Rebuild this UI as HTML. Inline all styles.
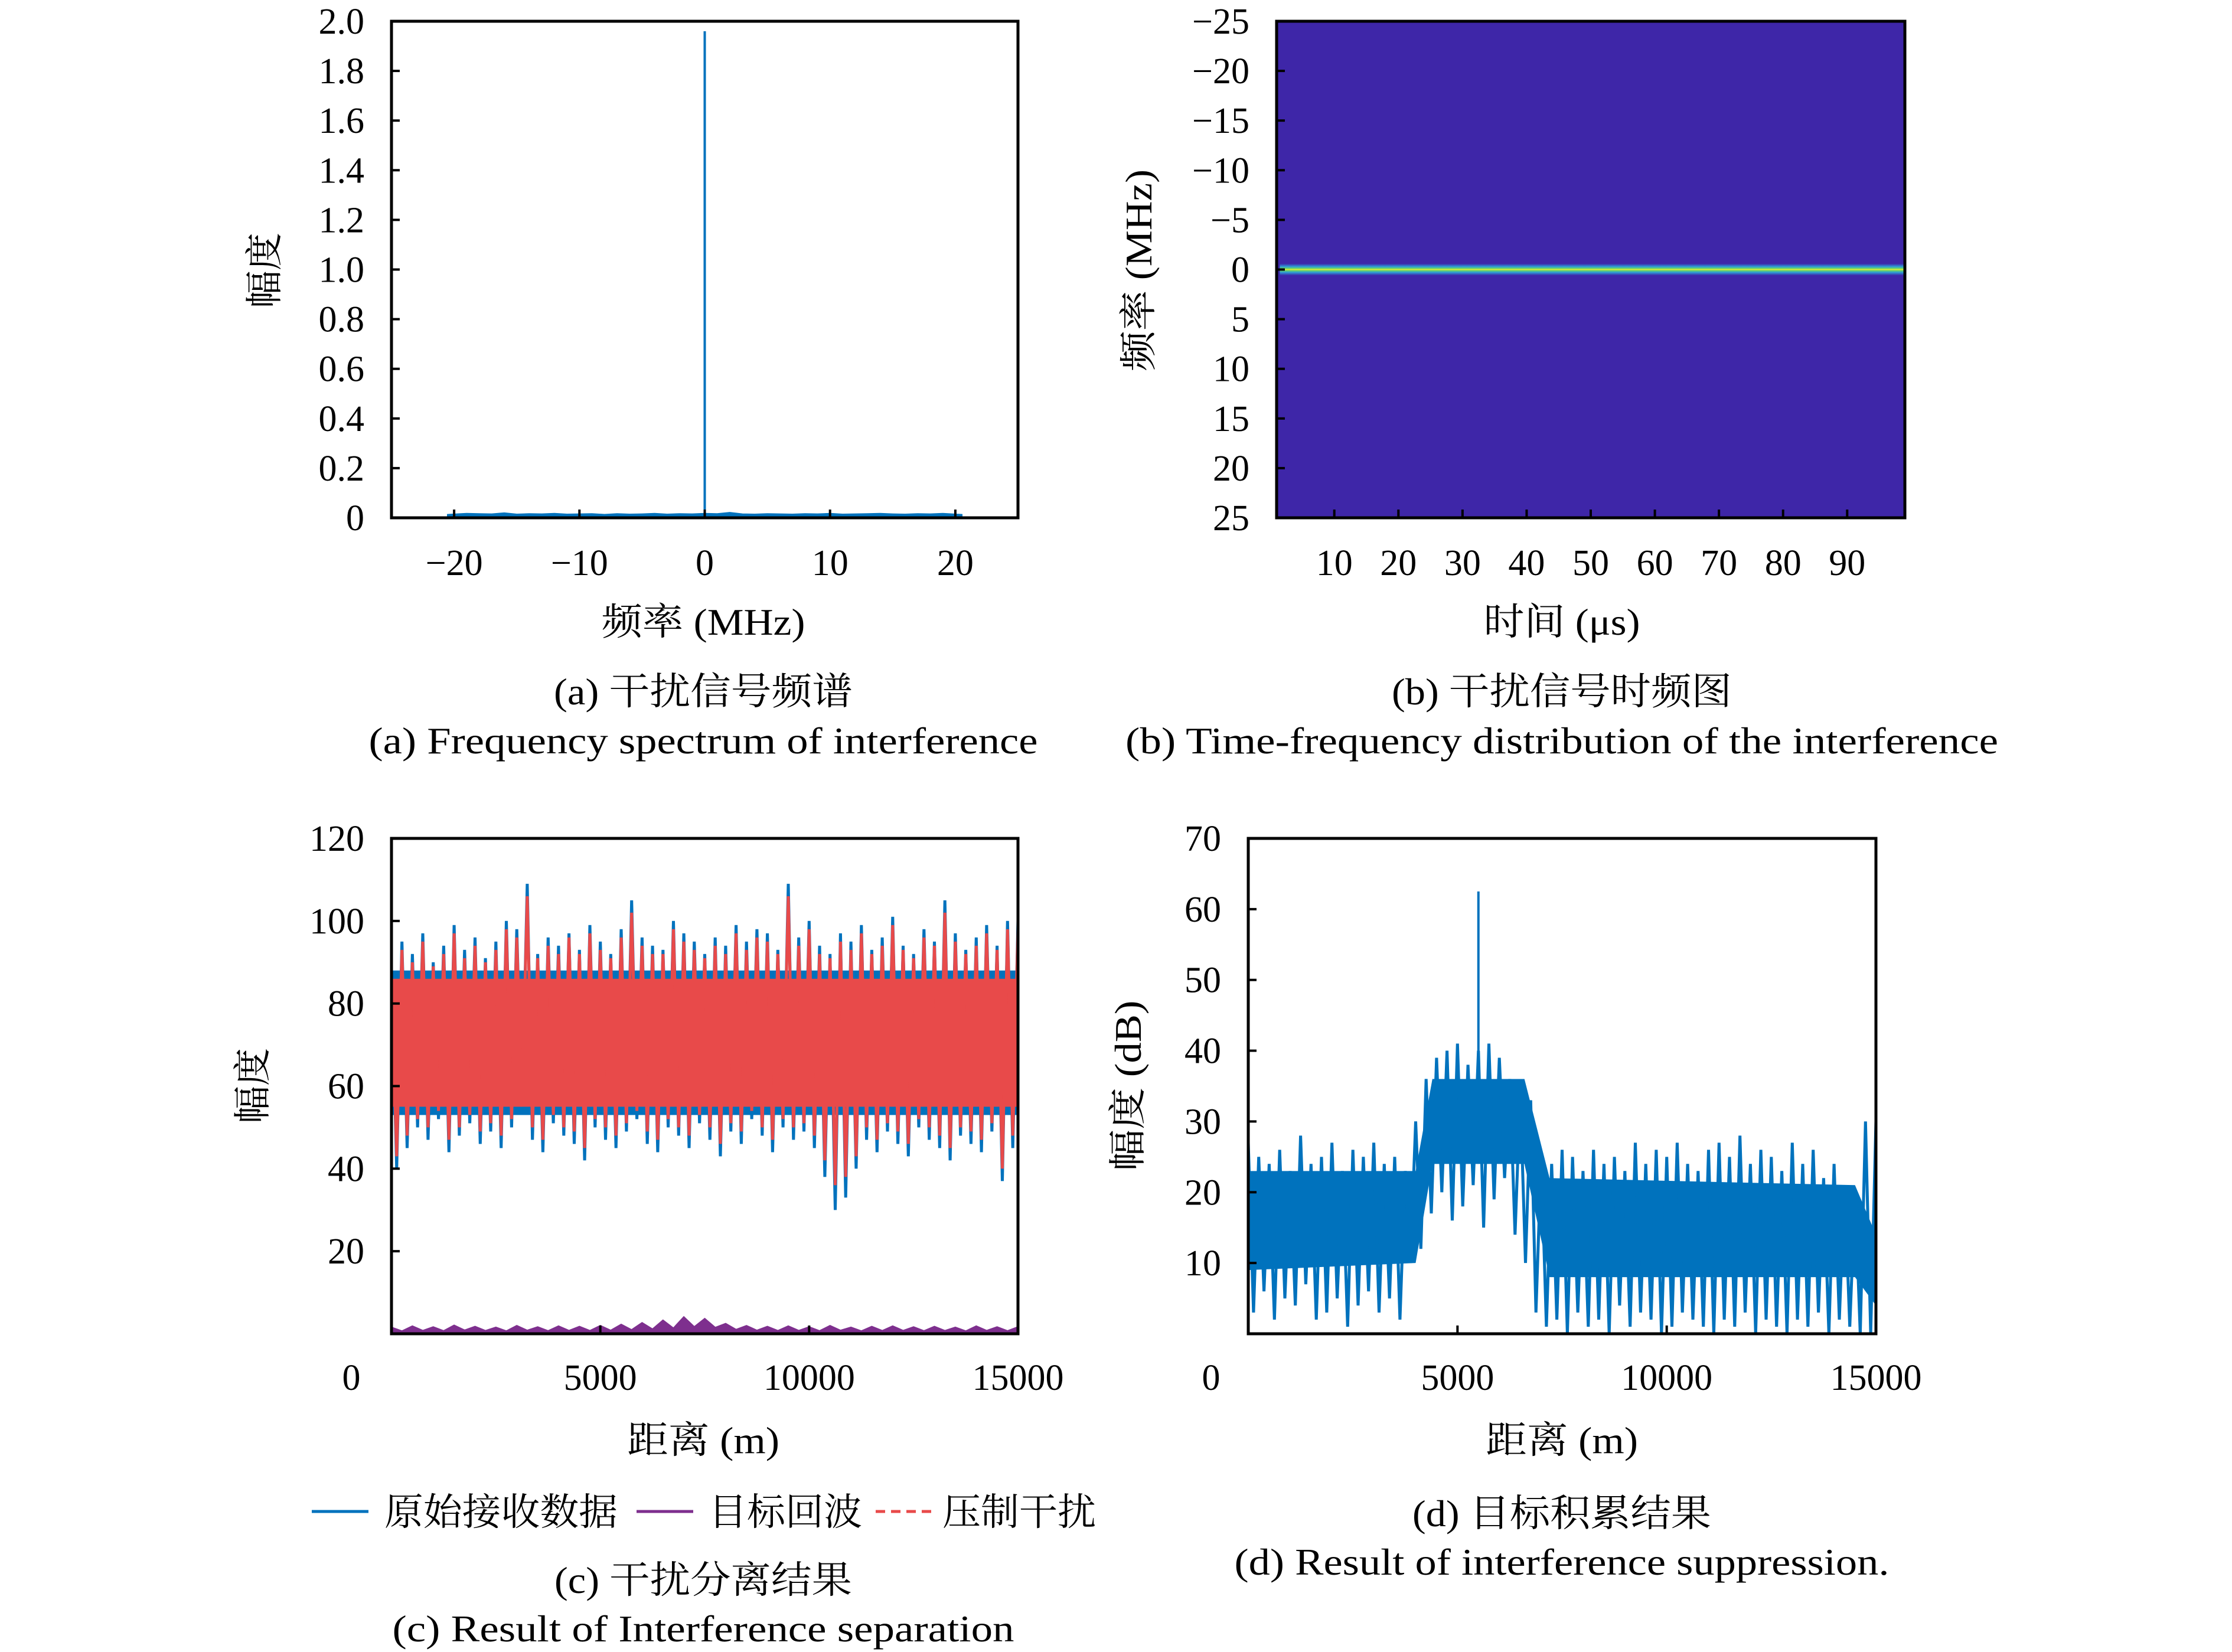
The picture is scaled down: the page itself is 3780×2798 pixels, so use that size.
<!DOCTYPE html>
<html><head><meta charset="utf-8"><style>
html,body{margin:0;padding:0;background:#fff}
svg{display:block}
text{font-family:"Liberation Serif","Noto Serif CJK SC",serif;fill:#000}
</style></head><body>
<svg id="fig" width="3780" height="2798" viewBox="0 0 3780 2798" xmlns="http://www.w3.org/2000/svg">
<defs>
<linearGradient id="tfband" x1="0" y1="0" x2="0" y2="1">
<stop offset="0" stop-color="#3e26a8"/><stop offset="0.25" stop-color="#2d9ad8"/><stop offset="0.4" stop-color="#60d070"/><stop offset="0.5" stop-color="#e8f030"/><stop offset="0.6" stop-color="#60d070"/><stop offset="0.75" stop-color="#2d9ad8"/><stop offset="1" stop-color="#3e26a8"/>
</linearGradient>
</defs>
<g id="layer"></g>
<text transform="translate(470,458) rotate(-90)" text-anchor="middle" font-size="64">幅度</text>
<text x="1191" y="1075" text-anchor="middle" font-size="64" textLength="345" lengthAdjust="spacingAndGlyphs">频率 (MHz)</text>
<text x="1191" y="1193" text-anchor="middle" font-size="64" textLength="506" lengthAdjust="spacingAndGlyphs">(a) 干扰信号频谱</text>
<text x="1191" y="1276" text-anchor="middle" font-size="64" textLength="1133" lengthAdjust="spacingAndGlyphs">(a) Frequency spectrum of interference</text>

<text transform="translate(1950,458) rotate(-90)" text-anchor="middle" font-size="64" textLength="342" lengthAdjust="spacingAndGlyphs">频率 (MHz)</text>
<text x="2645" y="1075" text-anchor="middle" font-size="64" textLength="265" lengthAdjust="spacingAndGlyphs">时间 (μs)</text>
<text x="2645" y="1193" text-anchor="middle" font-size="64" textLength="576" lengthAdjust="spacingAndGlyphs">(b) 干扰信号时频图</text>
<text x="2645" y="1276" text-anchor="middle" font-size="64" textLength="1478" lengthAdjust="spacingAndGlyphs">(b) Time-frequency distribution of the interference</text>

<text transform="translate(450,1839) rotate(-90)" text-anchor="middle" font-size="64">幅度</text>
<text x="1191" y="2461" text-anchor="middle" font-size="64" textLength="258" lengthAdjust="spacingAndGlyphs">距离 (m)</text>
<text x="1191" y="2698" text-anchor="middle" font-size="64" textLength="504" lengthAdjust="spacingAndGlyphs">(c) 干扰分离结果</text>
<text x="1191" y="2780" text-anchor="middle" font-size="64" textLength="1053" lengthAdjust="spacingAndGlyphs">(c) Result of Interference separation</text>

<g>
<line x1="528" y1="2560" x2="624" y2="2560" stroke="#0072bd" stroke-width="5"/>
<text x="651" y="2583" font-size="64" textLength="395" lengthAdjust="spacingAndGlyphs">原始接收数据</text>
<line x1="1078" y1="2560" x2="1174" y2="2560" stroke="#7e2f8e" stroke-width="5"/>
<text x="1200" y="2583" font-size="64" textLength="260" lengthAdjust="spacingAndGlyphs">目标回波</text>
<line x1="1483" y1="2560" x2="1579" y2="2560" stroke="#e84a4a" stroke-width="5" stroke-dasharray="16,10"/>
<text x="1596" y="2583" font-size="64" textLength="260" lengthAdjust="spacingAndGlyphs">压制干扰</text>
</g>

<text transform="translate(1932,1839) rotate(-90)" text-anchor="middle" font-size="64" textLength="289" lengthAdjust="spacingAndGlyphs">幅度 (dB)</text>
<text x="2645" y="2461" text-anchor="middle" font-size="64" textLength="258" lengthAdjust="spacingAndGlyphs">距离 (m)</text>
<text x="2645" y="2585" text-anchor="middle" font-size="64" textLength="506" lengthAdjust="spacingAndGlyphs">(d) 目标积累结果</text>
<text x="2645" y="2667" text-anchor="middle" font-size="64" textLength="1109" lengthAdjust="spacingAndGlyphs">(d) Result of interference suppression.</text>
</svg>
<script>
// ---- Panel (a) data ----
const aXTicks = [-20, -10, 0, 10, 20];
const aYTicks = [0, 0.2, 0.4, 0.6, 0.8, 1.0, 1.2, 1.4, 1.6, 1.8, 2.0];
const aYLabels = ["0","0.2","0.4","0.6","0.8","1.0","1.2","1.4","1.6","1.8","2.0"];
const aFloorFreq = [-20.5,-19,-18,-17,-16,-15,-14,-13,-12,-11,-10,-9,-8,-7,-6,-5,-4,-3,-2,-1,0,1,2,3,4,5,6,7,8,9,10,11,12,13,14,15,16,17,18,19,20.5];
const aFloorVal = [0.012,0.016,0.015,0.014,0.018,0.013,0.015,0.014,0.016,0.013,0.014,0.015,0.012,0.015,0.013,0.014,0.016,0.013,0.015,0.014,0.016,0.015,0.02,0.014,0.013,0.015,0.014,0.013,0.015,0.014,0.016,0.013,0.014,0.015,0.016,0.014,0.013,0.015,0.014,0.016,0.012];
const aPeakFreq = 0;
const aPeakVal = 1.96;
// ---- Panel (b) data ----
const bXTicks = [10,20,30,40,50,60,70,80,90];
const bYTicks = [-25,-20,-15,-10,-5,0,5,10,15,20,25];
const bYLabels = ["\u221225","\u221220","\u221215","\u221210","\u22125","0","5","10","15","20","25"];
const bToneFreq = 0;
const bToneStart = 1.5;
const bToneEnd = 98.8;
// ---- Panel (c) data ----
const cYTicks = [20,40,60,80,100,120];
const cXTicks = [5000,10000,15000];
const rawHi = [88,95,92,97,90,94,99,93,96,91,95,100,98,109,92,96,94,97,93,99,95,92,98,105,96,94,93,100,97,95,92,96,94,99,95,98,97,93,109,96,100,94,92,97,95,99,93,96,101,94,92,98,95,105,97,93,96,99,94,100];
const rawLo = [40,45,50,47,52,44,48,51,46,49,45,50,53,47,44,51,48,46,42,50,47,45,49,52,46,44,50,48,45,51,47,43,49,46,52,48,44,50,47,49,45,38,30,33,40,47,44,49,46,43,50,47,45,42,48,46,44,49,37,45];
const jamHi = [86,93,90,95,89,92,97,91,94,90,93,98,96,106,91,94,92,96,92,97,93,91,96,102,94,92,92,98,95,93,91,94,92,97,93,96,95,92,106,94,98,92,91,95,93,97,92,94,99,93,91,96,94,102,95,92,94,97,93,98];
const jamLo = [43,48,52,50,54,47,50,53,49,51,48,52,55,50,47,53,50,49,45,52,50,48,51,54,49,47,52,50,48,53,50,46,51,49,54,50,47,52,50,51,48,42,36,38,43,50,47,51,49,46,52,50,48,45,50,49,47,51,40,48];
const cCoreDist = [0,15000];
const cCoreHi = [88,88];
const cCoreLo = [53,53];
const jamCoreHi = [86,86];
const jamCoreLo = [55,55];
const tgtVal = [1.5,1.8,1.6,2.0,1.7,1.5,1.9,1.6,1.8,1.7,1.9,2.2,2.6,3.2,4.0,3.6,2.4,1.9,1.7,1.8,1.6,1.9,1.5,1.7,1.8,1.6,1.7,1.5,1.8,1.6];
// ---- Panel (d) data ----
const dYTicks = [10,20,30,40,50,60,70];
const dXTicks = [5000,10000,15000];
const dHi = [27,25,24,26,23,28,24,25,27,23,26,25,27,24,25,23,30,36,39,40,41,38,40,41,39,36,34,33,25,24,26,25,23,26,24,25,23,27,24,26,25,27,24,23,26,27,25,28,24,26,25,23,27,24,26,22,24,21,20,30];
const dLo = [3,6,2,5,4,7,2,3,5,1,4,6,3,5,2,10,12,17,20,16,18,21,15,19,22,14,10,3,1,2,0,3,1,2,0,4,1,3,2,0,1,3,2,1,0,2,1,3,0,2,1,0,2,1,3,0,2,1,0,0];
const dCoreDist = [0,4000,4400,6600,7200,14500,15000];
const dCoreHi = [23,23,36,36,22,21,14];
const dCoreLo = [9,10,24,24,8,8,4];
const dPeakDist = 5500;
const dPeakVal = 62.5;

const NS = "http://www.w3.org/2000/svg";
const layer = document.getElementById('layer');
function el(tag, attrs, parent){ const e=document.createElementNS(NS,tag); for(const k in attrs) e.setAttribute(k,attrs[k]); (parent||layer).appendChild(e); return e; }

const PA={x0:663,x1:1724,y0:36,y1:877,xmin:-25,xmax:25,ymin:0,ymax:2};
const PB={x0:2162,x1:3226,y0:36,y1:877,xmin:1,xmax:99,ymin:-25,ymax:25};
const PC={x0:663,x1:1724,y0:1420,y1:2259,xmin:0,xmax:15000,ymin:0,ymax:120};
const PD={x0:2114,x1:3177,y0:1420,y1:2259,xmin:0,xmax:15000,ymin:0,ymax:70};
function sx(P,v){return P.x0+(v-P.xmin)/(P.xmax-P.xmin)*(P.x1-P.x0);}
function sy(P,v){return P.y1-(v-P.ymin)/(P.ymax-P.ymin)*(P.y1-P.y0);}
function syInv(P,v){return P.y0+(v-P.ymin)/(P.ymax-P.ymin)*(P.y1-P.y0);}

function band(P, hi, lo, color, nm){
  const n=hi.length, w=(P.xmax-P.xmin)/n; let pts=[];
  for(let i=0;i<n;i++){
    const xa=P.xmin+i*w, xb=xa+w/2;
    pts.push(sx(P,xa).toFixed(1)+','+sy(P,hi[i]).toFixed(1));
    pts.push(sx(P,xb).toFixed(1)+','+sy(P,lo[i]).toFixed(1));
  }
  pts.push(sx(P,P.xmax).toFixed(1)+','+sy(P,hi[n-1]).toFixed(1));
  const e=el('polyline',{points:pts.join(' '),fill:'none',stroke:color,'stroke-width':5,'stroke-linejoin':'bevel'});
  
  
}
function core(P, d, hi, lo, color, nm){
  let pts=[];
  for(let i=0;i<d.length;i++) pts.push(sx(P,d[i])+','+sy(P,hi[i]));
  for(let i=d.length-1;i>=0;i--) pts.push(sx(P,d[i])+','+sy(P,lo[i]));
  const e=el('polygon',{points:pts.join(' '),fill:color});
  
  
}
function frame(P,nm){
  const e=el('rect',{x:P.x0,y:P.y0,width:P.x1-P.x0,height:P.y1-P.y0,fill:'none',stroke:'#000','stroke-width':5});
  
  
}
function xticks(P,ticks,labels,ly,inv,nm){
  ticks.forEach((t,i)=>{
    const x=sx(P,t);
    const tk=el('line',{x1:x,y1:P.y1,x2:x,y2:P.y1-14,stroke:'#000','stroke-width':4});
    
    
    const tx=el('text',{x:x,y:ly,'text-anchor':'middle','font-size':62});
    tx.textContent=labels[i];
    
    
  });
}
function yticks(P,ticks,labels,inv,nm){
  ticks.forEach((t,i)=>{
    const y=inv?syInv(P,t):sy(P,t);
    const tk=el('line',{x1:P.x0,y1:y,x2:P.x0+14,y2:y,stroke:'#000','stroke-width':4});
    
    
    const tx=el('text',{x:P.x0-46,y:y+21,'text-anchor':'end','font-size':62});
    tx.textContent=labels[i];
    
    
  });
}

// Panel a
{
  let pts=[sx(PA,aFloorFreq[0])+','+sy(PA,0)];
  aFloorFreq.forEach((f,i)=>pts.push(sx(PA,f).toFixed(1)+','+sy(PA,aFloorVal[i]).toFixed(1)));
  pts.push(sx(PA,aFloorFreq[aFloorFreq.length-1])+','+sy(PA,0));
  const fl=el('polygon',{points:pts.join(' '),fill:'#0072bd',stroke:'#0072bd','stroke-width':3});
  
  
  const pk=el('line',{x1:sx(PA,aPeakFreq),y1:sy(PA,0),x2:sx(PA,aPeakFreq),y2:sy(PA,aPeakVal),stroke:'#0072bd','stroke-width':4});
  
  
  frame(PA,'panel-a-axes');
  xticks(PA,aXTicks,aXTicks.map(v=>v<0?'\u2212'+(-v):''+v),974,false,'panel-a-x');
  yticks(PA,aYTicks,aYLabels,false,'panel-a-y');
}
// Panel b
{
  const bg=el('rect',{x:PB.x0,y:PB.y0,width:PB.x1-PB.x0,height:PB.y1-PB.y0,fill:'#3e26a8'});
  
  
  const yc=syInv(PB,bToneFreq);
  const tone=el('rect',{x:sx(PB,bToneStart),y:yc-10,width:sx(PB,bToneEnd)-sx(PB,bToneStart),height:20,fill:'url(#tfband)'});
  
  
  frame(PB,'panel-b-axes');
  xticks(PB,bXTicks,bXTicks.map(String),974,false,'panel-b-x');
  yticks(PB,bYTicks,bYLabels,true,'panel-b-y');
}
// Panel c
{
  core(PC,cCoreDist,cCoreHi,cCoreLo,'#0072bd','raw-data-core');
  band(PC,rawHi,rawLo,'#0072bd','raw-data-line');
  core(PC,cCoreDist,jamCoreHi,jamCoreLo,'#e84a4a','jamming-core');
  band(PC,jamHi,jamLo,'#e84a4a','jamming-line');
  const n=tgtVal.length, w=(PC.xmax-PC.xmin)/n; let pts=[sx(PC,0)+','+sy(PC,0)];
  tgtVal.forEach((v,i)=>{pts.push(sx(PC,i*w).toFixed(1)+','+sy(PC,v).toFixed(1)); pts.push(sx(PC,(i+0.5)*w).toFixed(1)+','+sy(PC,v*0.4).toFixed(1));});
  pts.push(sx(PC,PC.xmax)+','+sy(PC,tgtVal[n-1])); pts.push(sx(PC,PC.xmax)+','+sy(PC,0));
  const tg=el('polygon',{points:pts.join(' '),fill:'#7e2f8e',stroke:'#7e2f8e','stroke-width':3});
  
  
  frame(PC,'panel-c-axes');
  xticks(PC,cXTicks,cXTicks.map(String),2354,false,'panel-c-x');
  yticks(PC,cYTicks,cYTicks.map(String),false,'panel-c-y');
  const z=el('text',{x:595,y:2354,'text-anchor':'middle','font-size':62}); z.textContent='0';
  
  
}
// Panel d
{
  core(PD,dCoreDist,dCoreHi,dCoreLo,'#0072bd','accumulation-core');
  band(PD,dHi,dLo,'#0072bd','accumulation-line');
  const pk=el('line',{x1:sx(PD,dPeakDist),y1:sy(PD,30),x2:sx(PD,dPeakDist),y2:sy(PD,dPeakVal),stroke:'#0072bd','stroke-width':4});
  
  
  frame(PD,'panel-d-axes');
  xticks(PD,dXTicks,dXTicks.map(String),2354,false,'panel-d-x');
  yticks(PD,dYTicks,dYTicks.map(String),false,'panel-d-y');
  const z=el('text',{x:2051,y:2354,'text-anchor':'middle','font-size':62}); z.textContent='0';
  
  
}
</script>
</body></html>
